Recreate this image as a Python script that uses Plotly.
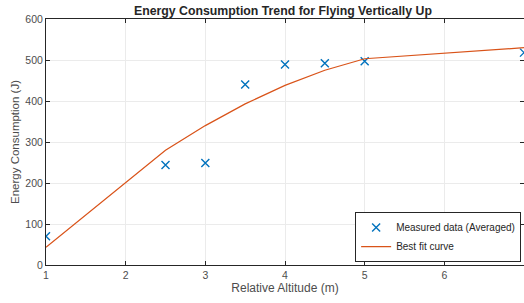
import plotly.graph_objects as go

altitude = [1, 2.5, 3, 3.5, 4, 4.5, 5, 7]
measured = [70, 244, 249, 440, 489, 492, 497, 518]
fit_values = [43, 280, 340, 393, 438, 475, 503, 530]
x_ticks = [1, 2, 3, 4, 5, 6, 7]
y_ticks = [0, 100, 200, 300, 400, 500, 600]

FONT = "Liberation Sans, Arial"

fig = go.Figure()
fig.add_trace(go.Scatter(
    x=altitude, y=measured, mode="markers", name="Measured data (Averaged)",
    marker=dict(symbol="x-thin-open", size=8, line=dict(color="#0072BD", width=1.4), color="#0072BD"),
))
fig.add_trace(go.Scatter(
    x=altitude, y=fit_values, mode="lines", name="Best fit curve",
    line=dict(color="#D95319", width=1.2),
))

axis_common = dict(
    showline=True, linecolor="#262626", linewidth=1, mirror="ticks",
    ticks="inside", ticklen=4, tickcolor="#262626",
    showgrid=True, gridcolor="#EBEBEB", gridwidth=1, zeroline=False,
    automargin=False,
    tickfont=dict(family=FONT, size=10.5, color="#4D4D4D"),
)
fig.update_xaxes(range=[1, 7], tickvals=x_ticks,
                 title=dict(text="Relative Altitude (m)", standoff=3,
                            font=dict(family=FONT, size=12, color="#4D4D4D")),
                 **axis_common)
fig.update_yaxes(range=[0, 600], tickvals=y_ticks,
                 title=dict(text="Energy Consumption (J)", standoff=3,
                            font=dict(family=FONT, size=11.5, color="#4D4D4D")),
                 **axis_common)

fig.update_layout(
    width=524, height=303,
    margin=dict(l=46, r=0, t=19, b=38),
    plot_bgcolor="white", paper_bgcolor="white",
    hovermode=False,
    title=dict(text="<b>Energy Consumption Trend for Flying Vertically Up</b>",
               x=0.54, xanchor="center", y=0.964, yanchor="middle",
               font=dict(family=FONT, size=12.3, color="#262626")),
    legend=dict(x=0.994, xanchor="right", y=0.012, yanchor="bottom",
                bgcolor="white", bordercolor="#262626", borderwidth=1,
                font=dict(family=FONT, size=10, color="#262626"),
                tracegroupgap=0, itemwidth=30),
    showlegend=True,
)

fig.write_html("out.html", config={"displayModeBar": False},
               post_script="document.body.style.margin='0px';")
